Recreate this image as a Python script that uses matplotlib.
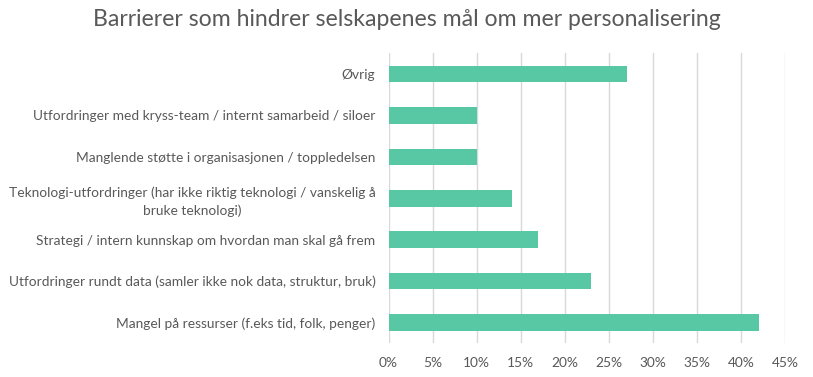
import matplotlib
matplotlib.use("Agg")
import matplotlib.pyplot as plt
from matplotlib.ticker import FuncFormatter, MultipleLocator

plt.rcParams['font.family'] = ['Lato', 'DejaVu Sans']

categories = [
    "Mangel på ressurser (f.eks tid, folk, penger)",
    "Utfordringer rundt data (samler ikke nok data, struktur, bruk)",
    "Strategi / intern kunnskap om hvordan man skal gå frem",
    "Teknologi-utfordringer (har ikke riktig teknologi / vanskelig å\nbruke teknologi)",
    "Manglende støtte i organisasjonen / toppledelsen",
    "Utfordringer med kryss-team / internt samarbeid / siloer",
    "Øvrig",
]
values = [42, 23, 17, 14, 10, 10, 27]
title = "Barrierer som hindrer selskapenes mål om mer personalisering"

text_color = "#595959"
bar_color = "#57C8A3"
grid_color = "#D9D9D9"

fig = plt.figure(figsize=(8.13, 3.77), dpi=100)
ax = fig.add_axes([0.478, 0.0894, 0.488, 0.7692])

ypos = list(range(len(categories)))
ax.barh(ypos, values, height=0.4, color=bar_color, zorder=3)
ax.set_ylim(-0.5, len(categories) - 0.5)
ax.set_xlim(0, 45)
ax.xaxis.set_major_locator(MultipleLocator(5))
ax.xaxis.set_major_formatter(FuncFormatter(lambda v, p: f"{int(round(v))}%"))
ax.grid(axis='x', color=grid_color, linewidth=1, zorder=0)
ax.set_axisbelow(True)
for s in ax.spines.values():
    s.set_visible(False)
ax.set_yticks(ypos)
ax.set_yticklabels(categories)
ax.tick_params(axis='both', length=0, colors=text_color, labelsize=9.9)
ax.tick_params(axis='y', pad=9.5)
ax.tick_params(axis='x', pad=10)
for lab in ax.get_yticklabels():
    lab.set_multialignment('center')
    lab.set_linespacing(1.45)

fig.text(0.5, 1 - 19 / 377, title, ha='center', va='center', fontsize=16.6, color=text_color)

fig.savefig("out.png", dpi=100, facecolor='white')
